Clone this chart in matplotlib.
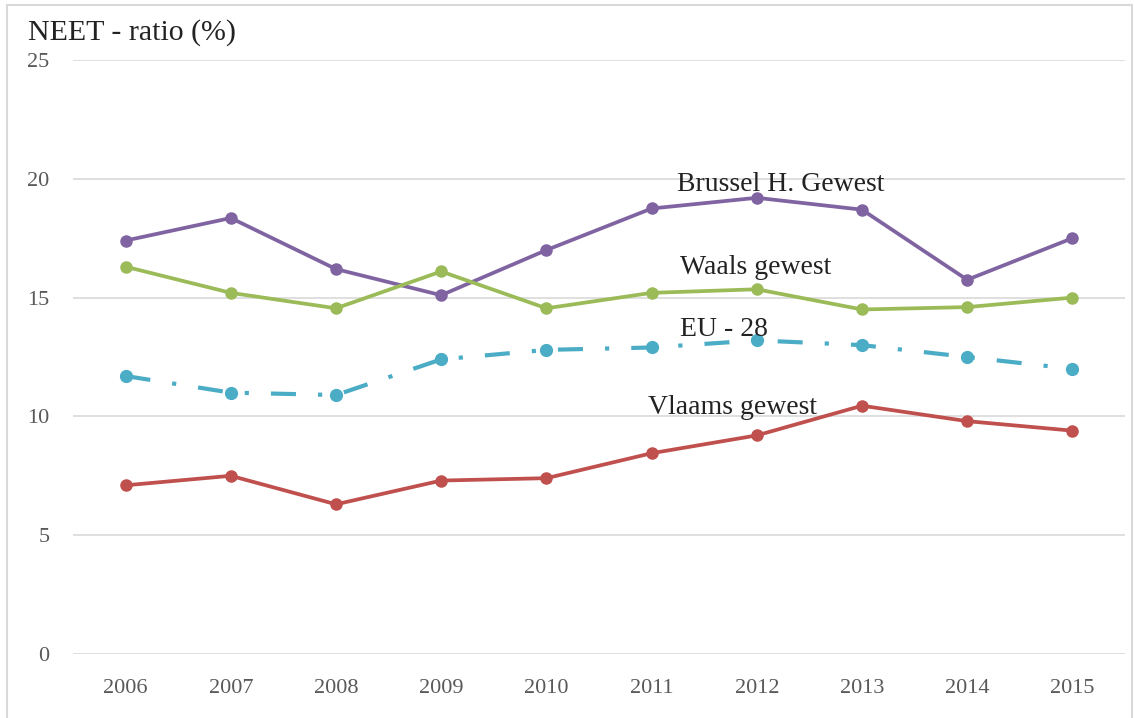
import matplotlib
matplotlib.use("Agg")
from matplotlib import pyplot as plt
from matplotlib.patches import Rectangle
import numpy as np

years = ['2006', '2007', '2008', '2009', '2010', '2011', '2012', '2013', '2014', '2015']
brussel = [17.4, 18.35, 16.2, 15.1, 17.0, 18.75, 19.2, 18.7, 15.75, 17.5]
waals = [16.3, 15.2, 14.55, 16.1, 14.55, 15.2, 15.35, 14.5, 14.6, 15.0]
eu28 = [11.7, 11.0, 10.9, 12.4, 12.8, 12.9, 13.2, 13.0, 12.5, 12.0]
vlaams = [7.1, 7.5, 6.3, 7.3, 7.4, 8.45, 9.2, 10.45, 9.8, 9.4]

W, H = 1134, 718
fig = plt.figure(figsize=(W / 100, H / 100), dpi=100)
ax = fig.add_axes([73 / W, 1 - 654 / H, (1125 - 73) / W, (654 - 60) / H])

serif = ['Liberation Serif', 'DejaVu Serif']
x = np.arange(len(years))

# solid lines for the three Belgian regions
ax.plot(x, brussel, color='#8064A2', lw=2.7, marker='o', ms=8, zorder=3)
ax.plot(x, waals, color='#9BBB59', lw=2.7, marker='o', ms=8, zorder=3)
ax.plot(x, vlaams, color='#C0504D', lw=2.7, marker='o', ms=8, zorder=3)
# EU average as dash-dot
eu_line, = ax.plot(x, eu28, color='#4BACC6', lw=3.0, marker='o', ms=8.5, zorder=3)
eu_line.set_dashes((6, 5.3, 1, 5.3))

ax.set_xlim(-0.5, len(years) - 0.5)
ax.set_ylim(0, 25)
ax.set_yticks([0, 5, 10, 15, 20, 25])
ax.set_xticks(x)
ax.set_xticklabels(years)
ax.grid(axis='y', color='#D9D9D9', lw=1.2)
ax.set_axisbelow(True)
for s in ax.spines.values():
    s.set_visible(False)
ax.tick_params(length=0, colors='#595959', labelsize=16)
ax.tick_params(axis='y', pad=17)
ax.tick_params(axis='x', pad=18)
for lab in ax.get_xticklabels() + ax.get_yticklabels():
    lab.set_family(serif)

# series labels
lab_kw = dict(fontsize=20, family=serif, color='#222222', ha='center', va='center', zorder=4)
ax.text(6.23, 19.75, 'Brussel H. Gewest', **lab_kw)
ax.text(5.99, 16.26, 'Waals gewest', **lab_kw)
ax.text(5.69, 13.65, 'EU - 28', **lab_kw)
ax.text(5.77, 10.38, 'Vlaams gewest', **lab_kw)

fig.text(28 / W, 1 - 33 / H, 'NEET - ratio (%)', fontsize=21.5, family=serif,
         color='#222222', ha='left', va='center')

# outer frame
fig.patches.append(Rectangle((7 / W, -0.05), (1132 - 7) / W, 1.05 - 5 / H,
                             transform=fig.transFigure, fill=False,
                             edgecolor='#D9D9D9', lw=1.5))

fig.savefig('out.png', dpi=100)
